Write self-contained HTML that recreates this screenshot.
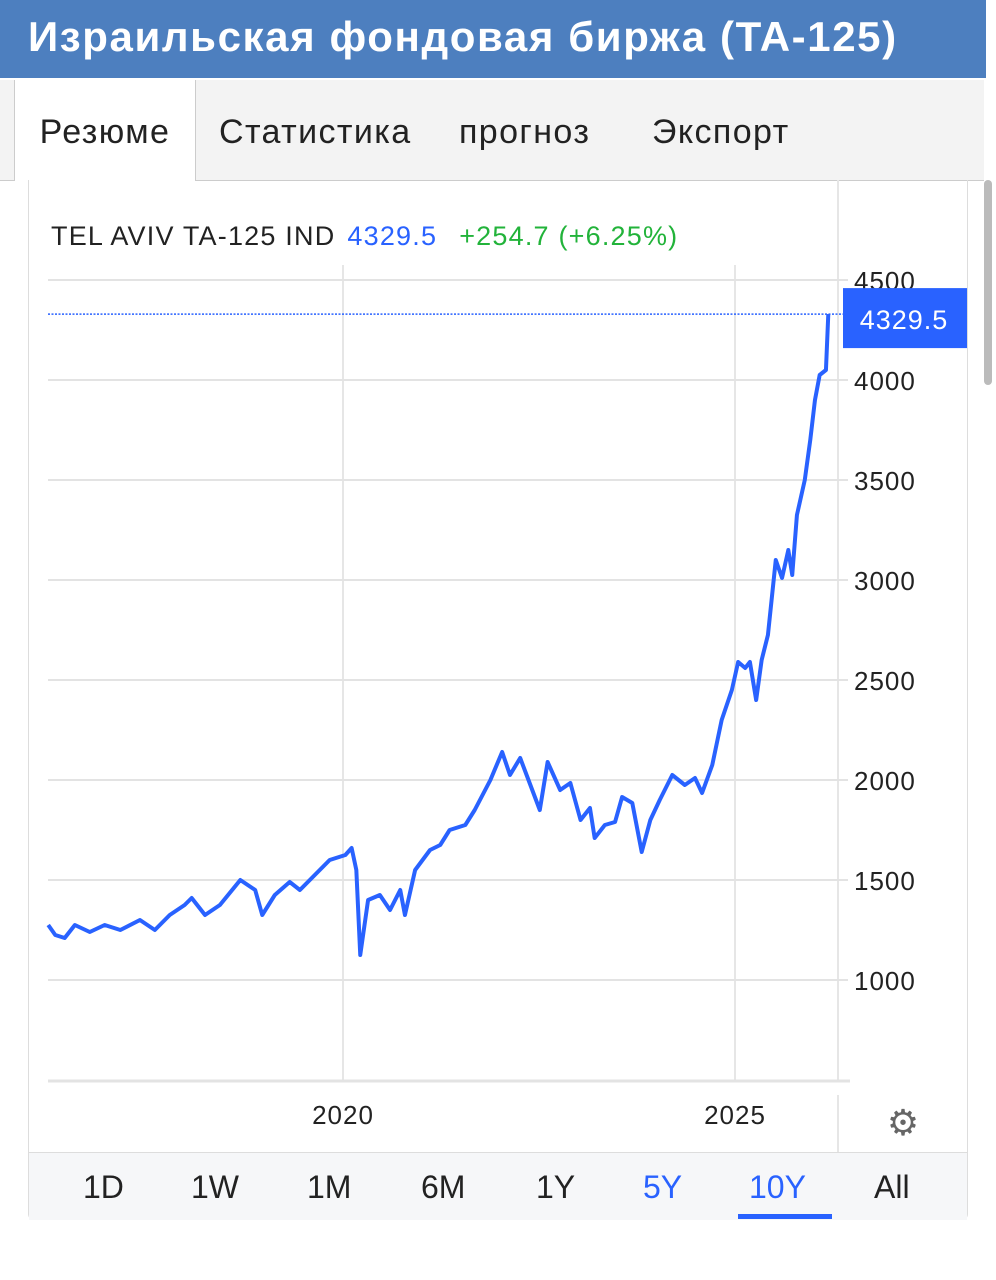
<!DOCTYPE html>
<html><head><meta charset="utf-8"><style>
body{margin:0;width:996px;height:1280px;background:#fff;font-family:"Liberation Sans",sans-serif;position:relative;overflow:hidden}
.hdr{position:absolute;left:0;top:0;width:986px;height:78px;background:#4d7fbf;color:#fff;font-size:42px;letter-spacing:1.6px;font-weight:bold;line-height:74px;padding-left:28px;box-sizing:border-box}
.tabs{position:absolute;left:0;top:80px;width:984px;height:100px;background:#f3f3f3;border-bottom:1px solid #ccc}
.tab{position:absolute;top:0;height:100px;line-height:104px;font-size:34px;letter-spacing:1.4px;color:#222}
.tab.active{background:#fff;border-left:1px solid #ccc;border-right:1px solid #ccc;height:101px}
.card{position:absolute;left:28px;top:180px;width:940px;height:1040px;border:1px solid #ddd;border-top:none;border-radius:0 0 6px 6px;box-sizing:border-box}
.range{position:absolute;left:29px;top:1152px;width:938px;height:67px;background:#f6f7f9;border-top:1px solid #ddd}
.r{position:absolute;top:16px;font-size:32px;color:#222}
.scroll{position:absolute;left:984px;top:180px;width:8px;height:205px;background:#bbb;border-radius:4px}
</style></head><body>
<div class="hdr">Израильская фондовая биржа (TA-125)</div>
<div class="tabs">
<div class="tab active" style="left:14px;width:180px;text-align:center">Резюме</div>
<div class="tab" style="left:219px">Статистика</div>
<div class="tab" style="left:459px">прогноз</div>
<div class="tab" style="left:652px">Экспорт</div>
</div>
<div class="scroll"></div>
<div class="card"></div>
<svg id="chart" width="996" height="1280" style="position:absolute;left:0;top:0"></svg>
<div class="range">
<div class="r" style="left:54px">1D</div>
<div class="r" style="left:162px">1W</div>
<div class="r" style="left:278px">1M</div>
<div class="r" style="left:392px">6M</div>
<div class="r" style="left:507px">1Y</div>
<div class="r" style="left:614px;color:#2962ff">5Y</div>
<div class="r" style="left:720px;color:#2962ff">10Y</div>
<div style="position:absolute;left:709px;top:61px;width:94px;height:5px;background:#2962ff"></div>
<div class="r" style="left:845px">All</div>
</div>
<script>
const dates=[2016.24,2016.33,2016.45,2016.58,2016.77,2016.96,2017.16,2017.41,2017.60,2017.79,2017.98,2018.07,2018.24,2018.43,2018.69,2018.88,2018.97,2019.13,2019.32,2019.45,2019.64,2019.83,2020.03,2020.11,2020.17,2020.22,2020.32,2020.47,2020.60,2020.73,2020.79,2020.92,2021.11,2021.24,2021.36,2021.56,2021.68,2021.88,2022.03,2022.13,2022.26,2022.39,2022.51,2022.61,2022.77,2022.90,2023.03,2023.15,2023.21,2023.34,2023.47,2023.56,2023.69,2023.81,2023.92,2024.04,2024.20,2024.36,2024.49,2024.58,2024.71,2024.83,2024.96,2025.04,2025.13,2025.19,2025.27,2025.34,2025.42,2025.52,2025.60,2025.68,2025.73,2025.79,2025.89,2025.96,2026.02,2026.08,2026.16,2026.19];
const values=[1275,1225,1210,1275,1240,1275,1250,1300,1250,1325,1375,1410,1325,1375,1500,1450,1325,1425,1490,1450,1525,1600,1625,1660,1550,1125,1400,1425,1350,1450,1325,1550,1650,1675,1750,1775,1850,2000,2140,2025,2110,1975,1850,2090,1950,1985,1800,1860,1710,1775,1790,1915,1885,1640,1800,1900,2025,1975,2010,1935,2075,2300,2450,2590,2560,2590,2400,2600,2725,3100,3010,3150,3025,3325,3500,3700,3900,4025,4050,4329.5];
const yTicks=[1000,1500,2000,2500,3000,3500,4000,4500];
const xTicks=[2020,2025];
const lastValue=4329.5;
const NS="http://www.w3.org/2000/svg";
const svg=document.getElementById('chart');
const X=t=>343+(t-2020)*78.4;
const Y=v=>380+(4000-v)*0.2;
function mk(tag,attrs){const e=document.createElementNS(NS,tag);for(const k in attrs)e.setAttribute(k,attrs[k]);svg.appendChild(e);return e;}
xTicks.forEach(t=>{const l=mk('line',{x1:X(t),x2:X(t),y1:265,y2:1080,stroke:'#e6e6e6','stroke-width':2});


const tx=mk('text',{x:X(t),y:1124,'text-anchor':'middle','font-size':26,'letter-spacing':1,fill:'#222','font-family':'Liberation Sans, sans-serif'});tx.textContent=t;

});
mk('line',{x1:838,x2:838,y1:180,y2:1080,stroke:'#e6e6e6','stroke-width':2});
mk('line',{x1:838,x2:838,y1:1095,y2:1152,stroke:'#e6e6e6','stroke-width':2});
yTicks.forEach(v=>{const l=mk('line',{x1:48,x2:848,y1:Y(v),y2:Y(v),stroke:'#e3e3e3','stroke-width':2});


const tx=mk('text',{x:854,y:Y(v)+10,'font-size':26,'letter-spacing':1,fill:'#222','font-family':'Liberation Sans, sans-serif'});tx.textContent=v;

});
mk('line',{x1:48,x2:850,y1:1081,y2:1081,stroke:'#e3e3e3','stroke-width':3});
const dl=mk('line',{x1:48,x2:843,y1:Y(lastValue),y2:Y(lastValue),stroke:'#2962ff','stroke-width':1.5,'stroke-dasharray':'2,1.5'});


const p=mk('polyline',{points:dates.map((d,i)=>X(d)+','+Y(values[i])).join(' '),fill:'none',stroke:'#2962ff','stroke-width':4,'stroke-linejoin':'round'});


const bx=mk('rect',{x:843,y:Y(lastValue)-26,width:124,height:60,fill:'#2962ff'});


const bt=mk('text',{x:904,y:Y(lastValue)+15,'text-anchor':'middle','font-size':27,'letter-spacing':1,fill:'#fff','font-family':'Liberation Sans, sans-serif'});bt.textContent=lastValue.toFixed(1);


const lg=mk('text',{x:51,y:245,'font-size':27,'letter-spacing':1.2,'font-family':'Liberation Sans, sans-serif'});


lg.innerHTML='<tspan fill="#222">TEL AVIV TA-125 IND</tspan><tspan fill="#2962ff" dx="12">4329.5</tspan><tspan fill="#22b33a" dx="22">+254.7 (+6.25%)</tspan>';
const g=mk('text',{x:903,y:1135,'text-anchor':'middle','font-size':36,fill:'#666','font-family':'DejaVu Sans, sans-serif'});g.textContent='⚙';


</script>
</body></html>
